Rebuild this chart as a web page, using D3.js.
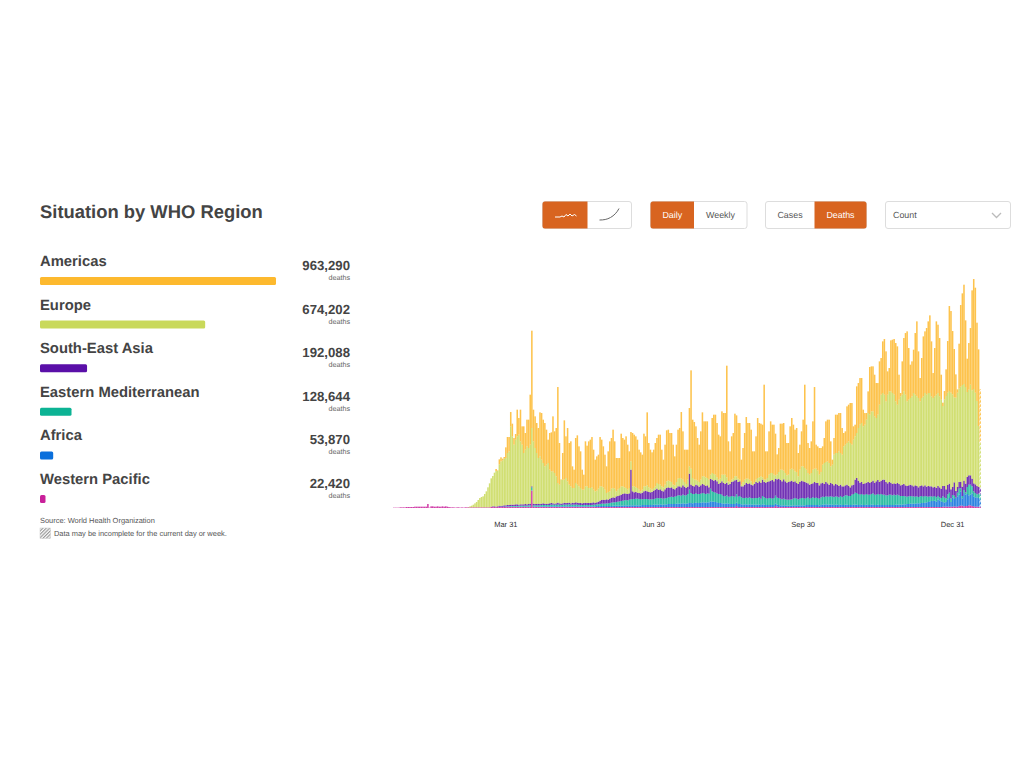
<!DOCTYPE html>
<html>
<head>
<meta charset="utf-8">
<script src="https://cdn.jsdelivr.net/npm/d3@7"></script>
<style>
  body { margin: 0; background: #fff; }
  text { font-family: "Liberation Sans", Arial, sans-serif; text-rendering: geometricPrecision; }
</style>
</head>
<body>
<svg class="chart"></svg>
<script>
var regions = ["Americas", "Europe", "South-East Asia", "Eastern Mediterranean", "Africa", "Western Pacific"];
var regionTotals = [963290, 674202, 192088, 128644, 53870, 22420];
var regionColors = ["#fdb92e", "#c9d95a", "#5a0fa8", "#0cb394", "#0a6fdc", "#c9209a"];

// one value per day, ten to a line
var westernPacific = [
  25,25,25,25,50,50,50,50,75,75,
  75,75,75,100,100,100,100,100,100,100,
  100,300,25,125,125,100,100,125,100,100,
  125,100,125,100,75,50,50,50,25,50,
  50,25,50,25,50,50,50,50,50,50,
  50,50,50,50,50,50,50,50,50,50,
  75,75,75,50,75,75,75,75,75,75,
  75,75,75,75,75,75,75,75,75,75,
  75,75,75,75,75,1300,75,75,75,75,
  75,75,75,75,75,75,75,75,75,75,
  75,75,75,75,75,75,75,75,75,75,
  75,75,75,75,75,75,75,75,75,75,
  75,75,75,75,75,75,75,75,75,75,
  75,75,75,75,75,75,75,75,75,75,
  75,75,75,75,75,75,75,75,75,75,
  75,75,75,75,75,75,75,75,75,75,
  75,75,75,75,75,75,75,75,75,75,
  75,75,75,75,75,75,75,75,75,75,
  75,75,75,75,75,75,75,75,75,75,
  75,75,75,75,75,75,75,75,75,75,
  75,75,75,75,75,75,75,75,75,75,
  75,150,75,75,75,75,75,75,75,75,
  75,75,75,75,75,75,75,75,75,75,
  75,75,75,75,75,150,100,75,75,75,
  75,75,75,75,75,75,75,75,75,75,
  75,75,75,75,75,75,75,75,75,75,
  75,75,75,75,75,75,75,75,75,75,
  75,75,75,75,75,75,75,75,75,75,
  75,75,75,75,75,75,75,75,75,75,
  75,75,75,75,75,75,75,75,75,75,
  75,75,75,75,75,75,75,75,75,75,
  75,75,75,75,75,75,75,75,75,75,
  75,75,75,75,75,75,75,75,75,75,
  75,75,75,75,75,75,75,75,100,100,
  100,100,100,100,100,125,100,100,150,175,
  175,125,150,150,200,200,150,125,100,100,
  100,100
];
var africa = [
  0,0,0,0,0,0,0,0,0,0, 0,0,0,0,0,0,0,0,0,0,
  0,0,0,0,0,0,0,0,0,0, 0,0,0,0,0,0,0,0,0,0,
  0,0,0,0,0,0,0,0,0,0, 0,0,0,0,0,0,0,0,0,0,
  0,0,0,0,0,25,25,25,25,25,
  25,25,25,25,25,25,25,25,25,25,
  25,25,25,25,25,25,25,50,25,25,
  50,25,50,50,50,25,50,50,50,50,
  50,50,50,50,50,50,50,50,50,50,
  50,50,50,50,50,50,50,50,50,50,
  50,50,50,50,50,75,75,75,75,75,
  75,75,75,75,75,100,100,100,100,100,
  100,100,125,125,100,125,125,125,125,125,
  125,125,125,150,150,150,150,150,150,150,
  175,175,175,175,200,175,175,200,200,225,
  225,225,225,225,250,250,250,250,275,250,
  250,275,300,300,275,300,325,300,300,325,
  350,350,325,350,350,425,400,400,375,350,
  300,300,275,250,250,275,250,225,225,225,
  225,250,225,225,200,175,200,200,175,200,
  175,175,175,175,175,175,150,200,175,150,
  150,150,150,150,150,175,150,150,125,125,
  125,125,100,100,100,100,125,125,125,125,
  125,125,125,125,150,150,150,150,150,150,
  150,150,125,150,175,175,200,175,175,175,
  175,150,175,175,150,175,150,150,175,175,
  150,150,150,175,175,175,150,150,175,150,
  150,175,150,150,175,175,150,150,175,150,
  150,150,150,150,150,150,150,150,150,175,
  175,175,175,175,200,200,225,225,250,250,
  250,250,275,275,275,300,300,325,350,375,
  425,450,450,475,400,550,500,425,350,300,
  350,550,650,350,700,550,650,750,850,1050,
  550,1000,850,900,750,800,950,750,700,700,
  650,550
];
var easternMediterranean = [
  0,0,0,0,0,0,0,0,0,0, 0,0,0,0,0,0,0,0,0,0,
  0,0,0,0,0,0,0,0,0,0, 0,0,0,0,0,0,0,0,0,0,
  0,0,0,0,0,0,0,0,0,0, 0,0,0,0,0,0,0,0,0,0,
  0,0,0,0,0,0,0,0,0,25,
  25,25,50,50,50,50,50,75,75,75,
  75,75,75,100,100,225,100,75,100,100,
  75,125,100,100,100,125,100,125,125,125,
  125,125,125,100,125,125,125,125,150,125,
  125,125,125,125,100,100,100,100,100,100,
  100,100,100,125,125,125,125,150,175,175,
  175,200,200,225,250,250,250,275,300,325,
  350,375,375,400,400,425,450,475,475,500,
  500,475,475,425,450,450,450,425,425,425,
  425,450,500,475,475,475,450,450,475,500,
  525,550,525,550,575,625,625,600,650,625,
  625,700,1000,750,700,675,700,675,675,675,
  700,675,650,675,650,950,775,725,700,675,
  675,675,650,575,550,600,525,550,600,575,
  550,625,550,600,525,500,475,500,500,525,
  500,475,500,500,500,550,475,625,550,525,
  475,525,525,475,525,600,525,525,500,450,
  500,450,450,450,450,475,500,550,500,450,
  500,550,550,500,525,575,475,525,575,525,
  550,525,500,575,600,575,600,600,600,625,
  600,600,625,600,575,650,600,650,700,700,
  675,675,775,800,900,875,825,775,800,775,
  775,800,775,775,800,850,775,775,800,775,
  825,775,775,725,725,775,775,725,775,700,
  750,700,650,650,625,600,550,575,575,550,
  550,525,525,475,525,525,475,500,450,400,
  375,350,325,350,325,275,225,250,425,375,
  275,375,400,275,175,250,25,300,450,250,
  175,225,175,525,800,750,525,375,325,225,
  325,375
];
var southEastAsia = [
  0,0,0,0,0,0,0,0,0,0, 0,0,0,0,0,0,0,0,0,0,
  0,0,0,0,0,0,0,0,0,0, 0,0,0,0,0,0,0,0,0,0,
  0,0,0,0,0,0,0,0,0,0, 0,0,0,0,0,0,0,0,0,0,
  25,50,50,50,50,75,50,75,100,75,
  100,100,100,100,100,125,125,75,100,100,
  100,125,100,100,125,75,125,100,100,125,
  100,100,125,100,75,100,125,125,100,75,
  100,150,100,100,100,150,125,125,125,100,
  150,125,175,150,150,150,125,150,175,150,
  150,150,175,175,125,150,200,250,275,300,
  275,300,275,325,350,375,350,425,425,450,
  475,500,525,475,475,475,2225,575,500,500,
  450,450,425,500,575,625,575,550,525,550,
  625,675,700,625,650,575,550,675,750,750,
  675,700,625,550,600,675,675,625,700,650,
  550,550,1200,625,600,575,650,650,550,625,
  675,650,600,600,475,725,875,850,950,900,
  750,825,1000,975,925,950,900,950,1050,1125,
  1225,1100,1100,1100,825,875,1000,1100,1050,1050,
  1000,975,1050,1200,1125,1200,1200,1225,1150,1150,
  1250,1250,1300,1400,1250,1275,1375,1450,1400,1350,
  1450,1350,1275,1325,1375,1400,1250,1250,1175,1150,
  1250,1300,1250,1250,1150,1050,1050,1050,1050,1200,
  1100,1125,1000,1050,1050,975,1075,1000,900,1000,
  950,875,925,900,850,850,800,750,750,800,
  750,650,700,700,975,1125,1000,900,900,800,
  850,850,950,875,900,950,900,1000,1050,950,
  1000,1125,1125,1000,900,950,900,850,850,850,
  875,850,800,850,900,825,800,825,850,825,
  750,850,775,725,775,800,775,800,725,800,
  750,750,700,700,700,750,750,700,775,875,
  675,700,675,675,600,1000,500,425,500,500,
  700,700,650,750,700,700,575,600,650,625,
  500,500
];
var europe = [
  0,0,0,0,0,0,0,0,0,0, 0,0,0,0,0,0,0,0,0,0,
  0,0,0,0,0,0,0,0,0,0, 0,0,0,0,0,0,0,0,0,0,
  0,0,0,0,0,0,25,75,125,200,
  300,400,550,700,775,825,1000,1200,1500,1800,
  2125,2275,2525,2675,2675,3100,3350,3400,3500,3550,
  3900,4025,5875,5125,4500,4850,5100,5250,4725,4475,
  3850,4075,4350,4200,4425,4375,4675,4200,3825,3425,
  3575,3300,3025,2800,2950,3050,2525,2375,2400,2300,
  2025,1475,1400,1800,1775,1725,1875,1625,1350,1275,
  1100,1125,1450,1350,1250,1125,1025,1000,1225,1250,
  1125,1125,1150,950,875,875,975,1075,1025,925,
  775,475,575,550,700,700,675,375,475,550,
  625,575,450,425,325,400,625,375,450,350,
  350,250,150,225,375,325,450,350,275,175,
  200,250,425,450,350,325,300,350,500,500,
  500,400,300,300,450,575,625,650,425,350,
  300,525,550,1200,600,500,375,350,350,425,
  575,625,650,550,575,325,500,500,400,300,
  325,325,500,625,700,400,250,150,175,200,
  300,250,250,125,125,325,375,325,400,275,
  250,100,150,175,375,300,475,175,175,225,
  300,500,575,525,500,250,375,500,775,875,
  650,625,550,550,875,900,925,750,825,575,
  925,1075,1125,1050,975,775,750,825,1025,1000,
  1075,925,800,850,1350,1575,1500,1650,1625,1250,
  1450,2300,2325,2375,2600,2375,2375,3000,3050,3125,
  3350,3325,3050,3375,3250,3375,3950,4350,4425,4325,
  4400,4725,5175,5125,5300,5200,4975,4750,4900,5800,
  6450,6500,6375,6050,6650,6800,6850,6825,6650,6200,
  5875,6325,6675,6750,6950,6800,6350,6425,6500,6675,
  7000,6800,6725,6700,6350,6550,6750,6925,6900,6975,
  7000,6750,6700,6775,7000,6975,6825,6675,6000,6500,
  7000,6925,6950,7250,6950,6375,7000,7075,7000,7125,
  7625,7250,7250,6375,6425,6800,6625,7075,6875,6375,
  4575,3375
];
var americas = [
  0,0,0,0,0,0,0,0,0,0, 0,0,0,0,0,0,0,0,0,0,
  0,0,0,0,0,0,0,0,0,0, 0,0,0,0,0,0,0,0,0,0,
  0,0,0,0,0,0,0,0,0,0, 0,0,0,0,0,0,0,0,0,0,
  0,0,0,150,25,375,300,125,125,800,
  1200,1075,1075,950,500,425,2000,1250,2375,1375,
  2000,1250,2000,2125,3750,7300,2375,2375,2250,2250,
  3300,3500,3250,3250,2625,1750,2750,2925,4125,3125,
  3625,7200,3125,25,2000,4450,3125,4000,3125,3375,
  1625,1375,3375,3700,3000,2750,1500,1125,3375,3050,
  3500,3625,3775,3000,2375,2575,2550,3700,3500,3075,
  2625,2000,3050,3750,3800,4375,3550,2500,2375,2250,
  3950,3625,3575,3875,3375,2750,2200,4000,3875,3825,
  3625,3000,2925,2625,3950,3750,5475,3325,2925,2800,
  2875,3250,3375,3700,3750,2750,2075,3000,3825,3825,
  3625,3675,3000,2175,2800,3675,3750,5000,3625,2425,
  2575,2250,4375,7375,4375,4325,4000,3200,2800,3625,
  4800,4125,4200,4250,2250,1875,4125,4450,4500,4075,
  3375,3175,4750,4625,4625,8375,3000,2300,3250,3425,
  4700,4575,4175,4250,1875,2550,3500,4625,4175,4250,
  3875,2450,2300,3250,4500,4075,3950,3950,7125,2125,
  2000,3250,3875,3625,3750,3125,1500,1800,3450,3450,
  3575,2875,2425,2375,3250,3800,3375,3125,3300,1750,
  1875,2625,3500,6250,3375,2250,2000,2375,3625,6125,
  1800,1825,2000,1800,1375,1875,3050,3125,3250,1875,
  375,1250,2875,2875,2875,3000,2000,1000,1000,2750,
  2750,3000,3125,1000,875,3500,3375,3500,3375,1250,
  875,500,1625,3575,3375,3375,3125,2625,2375,3250,
  2750,3875,4175,3750,1750,1750,3825,4000,4175,4375,
  4375,1875,250,2500,4000,4625,5250,3875,2500,2625,
  3250,4625,5625,3500,1750,3000,4500,4625,5000,5375,
  5825,4125,1875,3625,5500,5125,4375,1875,250,625,
  2000,3875,6375,6125,4750,3625,1750,250,3375,6125,
  6875,7450,5000,2500,3500,4250,7500,8250,7875,5875,
  5750,4000
];
var seriesValues = [americas, europe, southEastAsia, easternMediterranean, africa, westernPacific];

var tickDays = [69, 160, 252, 344];
var tickLabels = ["Mar 31", "Jun 30", "Sep 30", "Dec 31"];
var yMax = 17125;

var width = 1024,
    height = 768,
    orange = "#d86420",
    ink = "#444";

var svg = d3.select(".chart")
    .attr("width", width)
    .attr("height", height)
    .style("display", "block");

var defs = svg.append("defs");
defs.append("pattern")
    .attr("id", "incomplete")
    .attr("width", 3)
    .attr("height", 3)
    .attr("patternUnits", "userSpaceOnUse")
    .attr("patternTransform", "rotate(45)")
  .append("rect")
    .attr("width", 1.3)
    .attr("height", 3)
    .attr("fill", "#fff");
defs.append("pattern")
    .attr("id", "swatch")
    .attr("width", 2.4)
    .attr("height", 2.4)
    .attr("patternUnits", "userSpaceOnUse")
    .attr("patternTransform", "rotate(45)")
  .append("rect")
    .attr("width", 1.2)
    .attr("height", 2.4)
    .attr("fill", "#999");

// left panel
svg.append("text")
    .attr("x", 40)
    .attr("y", 218)
    .attr("fill", ink)
    .style("font-size", "18.4px")
    .style("font-weight", "bold")
    .text("Situation by WHO Region");

var barX = d3.scaleLinear()
    .domain([0, d3.max(regionTotals)])
    .range([0, 236]);

var rowY = d3.scalePoint()
    .domain(regions)
    .range([266, 484]);

var row = svg.selectAll(".row")
    .data(regions)
  .enter().append("g")
    .attr("class", "row")
    .attr("transform", function(d) { return "translate(0," + rowY(d) + ")"; });

row.append("text")
    .attr("x", 40)
    .attr("fill", ink)
    .style("font-size", "14.8px")
    .style("font-weight", "bold")
    .text(function(d) { return d; });

row.append("rect")
    .attr("x", 40)
    .attr("y", 11)
    .attr("rx", 1.5)
    .attr("height", 8)
    .attr("width", function(d, i) { return Math.max(barX(regionTotals[i]), 5.5); })
    .attr("fill", function(d, i) { return regionColors[i]; });

row.append("text")
    .attr("x", 350)
    .attr("y", 4)
    .attr("text-anchor", "end")
    .attr("fill", ink)
    .style("font-size", "13.2px")
    .style("font-weight", "bold")
    .text(function(d, i) { return d3.format(",")(regionTotals[i]); });

row.append("text")
    .attr("x", 350)
    .attr("y", 14)
    .attr("text-anchor", "end")
    .attr("fill", "#666")
    .style("font-size", "7.2px")
    .text("deaths");

svg.append("text")
    .attr("x", 40)
    .attr("y", 522.5)
    .attr("fill", "#555")
    .style("font-size", "7.45px")
    .text("Source:  World Health Organization");

svg.append("rect")
    .attr("x", 40)
    .attr("y", 528)
    .attr("width", 10.5)
    .attr("height", 10.5)
    .attr("fill", "url(#swatch)")
    .attr("stroke", "#ccc")
    .attr("stroke-width", 0.5);

svg.append("text")
    .attr("x", 54)
    .attr("y", 536)
    .attr("fill", "#555")
    .style("font-size", "7.45px")
    .text("Data may be incomplete for the current day or week.");

// stacked daily bars
var days = d3.range(americas.length);

var x = d3.scaleBand()
    .domain(days)
    .range([393, 981])
    .paddingInner(0.05);

var y = d3.scaleLinear()
    .domain([0, yMax])
    .range([508, 279.7]);

var stack = d3.stack()
    .keys(d3.range(regions.length).reverse())
    .value(function(day, s) { return seriesValues[s][day]; });

var layers = svg.selectAll(".layer")
    .data(stack(days))
  .enter().append("g")
    .attr("class", "layer")
    .attr("fill", function(d) { return regionColors[d.key]; })
    .attr("fill-opacity", 0.85);

layers.selectAll("rect")
    .data(function(d) { return d; })
  .enter().append("rect")
    .attr("x", function(d) { return x(d.data); })
    .attr("width", x.bandwidth())
    .attr("y", function(d) { return y(d[1]); })
    .attr("height", function(d) { return y(d[0]) - y(d[1]); });

// last day is still incomplete
var lastDay = days[days.length - 1];
svg.append("rect")
    .attr("x", x(lastDay))
    .attr("width", x.bandwidth())
    .attr("y", y(d3.sum(seriesValues, function(s) { return s[lastDay]; })))
    .attr("height", y(0) - y(d3.sum(seriesValues, function(s) { return s[lastDay]; })))
    .attr("fill", "url(#incomplete)");

var xAxis = d3.axisBottom(x)
    .tickValues(tickDays)
    .tickFormat(function(d, i) { return tickLabels[i]; })
    .tickSize(0)
    .tickPadding(14);

svg.append("g")
    .attr("transform", "translate(0,508)")
    .call(xAxis)
    .call(function(g) { g.select(".domain").remove(); })
    .selectAll("text")
    .attr("fill", "#333")
    .style("font-size", "7.5px")
    .style("font-family", "\"Liberation Sans\", Arial, sans-serif");

// controls
var groups = [
  { x: 542.5, w: 89, split: 45, labels: ["", ""], on: 0 },
  { x: 650.5, w: 96.5, split: 43.5, labels: ["Daily", "Weekly"], on: 0 },
  { x: 765.5, w: 101, split: 49, labels: ["Cases", "Deaths"], on: 1 }
];

var group = svg.selectAll(".toggle")
    .data(groups)
  .enter().append("g")
    .attr("class", "toggle")
    .attr("transform", function(d) { return "translate(" + d.x + ",201.5)"; });

group.append("rect")
    .attr("width", function(d) { return d.w; })
    .attr("height", 27)
    .attr("rx", 2.5)
    .attr("fill", "#fff")
    .attr("stroke", "#ddd");

group.append("path")
    .attr("fill", orange)
    .attr("d", function(d) {
      if (d.on == 0) return "M2.5,0H" + d.split + "V27H2.5Q0,27 0,24.5V2.5Q0,0 2.5,0Z";
      return "M" + d.split + ",0H" + (d.w - 2.5) + "Q" + d.w + ",0 " + d.w + ",2.5V24.5Q" + d.w + ",27 " + (d.w - 2.5) + ",27H" + d.split + "Z";
    });

group.each(function(d) {
  var g = d3.select(this);
  d.labels.forEach(function(label, i) {
    g.append("text")
        .attr("x", i == 0 ? d.split / 2 : (d.split + d.w) / 2)
        .attr("y", 16.8)
        .attr("text-anchor", "middle")
        .attr("fill", i == d.on ? "#fff" : "#555")
        .style("font-size", "8.9px")
        .text(label);
  });
});

svg.append("path")
    .attr("d", "M555,217h5l2,-1l2,1l2,-2.5l2,1.5l2,-2l2,2l2.5,-1.5l2,1.5")
    .attr("fill", "none")
    .attr("stroke", "#fff")
    .attr("stroke-width", 1);

svg.append("path")
    .attr("d", "M599.5,220c4,0 7.5,-0.5 11,-2.5c3.5,-2 6.5,-5 8.5,-9")
    .attr("fill", "none")
    .attr("stroke", "#666")
    .attr("stroke-width", 1);

svg.append("rect")
    .attr("x", 885.5)
    .attr("y", 201.5)
    .attr("width", 125)
    .attr("height", 27)
    .attr("rx", 2.5)
    .attr("fill", "#fff")
    .attr("stroke", "#ddd");

svg.append("text")
    .attr("x", 893)
    .attr("y", 218.3)
    .attr("fill", "#555")
    .style("font-size", "8.9px")
    .text("Count");

svg.append("path")
    .attr("d", "M992,213l4.5,4.5l4.5,-4.5")
    .attr("fill", "none")
    .attr("stroke", "#bbb")
    .attr("stroke-width", 1.3);
</script>
</body>
</html>
